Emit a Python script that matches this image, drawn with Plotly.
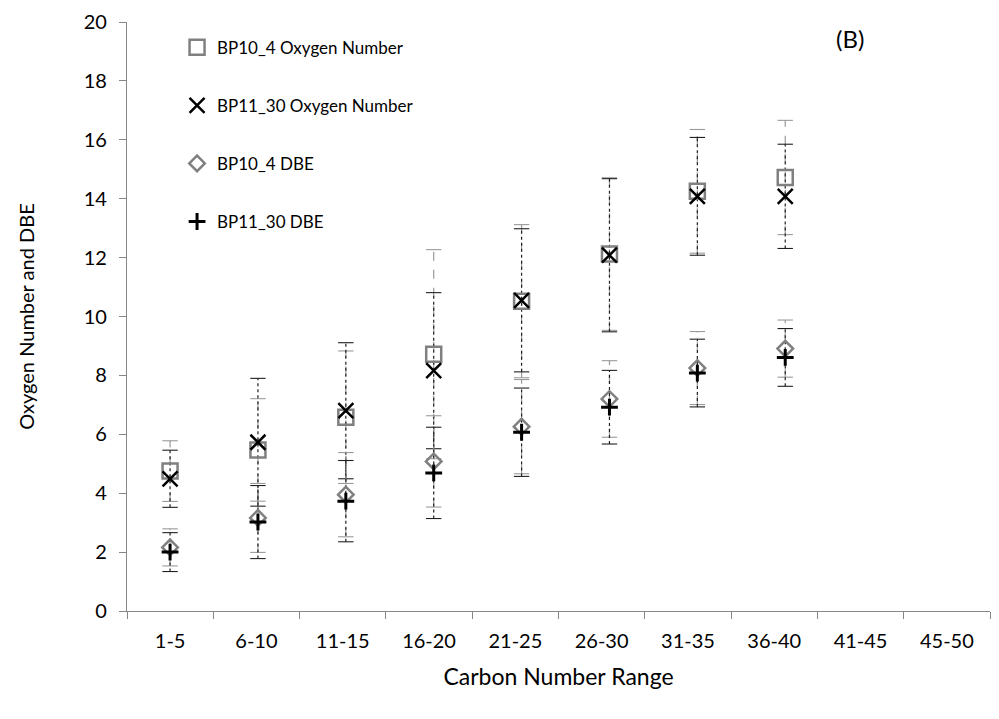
import plotly.graph_objects as go

categories = ["1-5", "6-10", "11-15", "16-20", "21-25", "26-30", "31-35", "36-40", "41-45", "45-50"]

bp10_oxygen = [4.75, 5.47, 6.58, 8.72, 10.52, 12.12, 14.25, 14.72]
bp10_oxygen_err = [1.03, 1.74, 2.25, 3.55, 2.60, 2.59, 2.10, 1.94]
bp11_oxygen = [4.49, 5.73, 6.80, 8.16, 10.55, 12.08, 14.08, 14.08]
bp11_oxygen_err = [0.97, 2.17, 2.31, 2.65, 2.43, 2.60, 2.00, 1.77]
bp10_dbe = [2.16, 3.16, 3.95, 5.08, 6.26, 7.20, 8.25, 8.91]
bp10_dbe_err = [0.63, 1.17, 1.43, 1.55, 1.60, 1.30, 1.24, 0.97]
bp11_dbe = [2.00, 3.02, 3.73, 4.69, 6.07, 6.92, 8.08, 8.61]
bp11_dbe_err = [0.66, 1.24, 1.38, 1.55, 1.50, 1.25, 1.15, 0.98]

series = [
    ("BP10_4 Oxygen Number", bp10_oxygen, bp10_oxygen_err,
     dict(symbol="square-open", size=15, color="#808080", line=dict(width=2.5, color="#808080")), "#9a9a9a", "dash"),
    ("BP11_30 Oxygen Number", bp11_oxygen, bp11_oxygen_err,
     dict(symbol="x-thin-open", size=15, color="#000000", line=dict(width=2.5, color="#000000")), "#202020", "dot"),
    ("BP10_4 DBE", bp10_dbe, bp10_dbe_err,
     dict(symbol="diamond-open", size=12, color="#808080", line=dict(width=2.5, color="#808080")), "#9a9a9a", "dash"),
    ("BP11_30 DBE", bp11_dbe, bp11_dbe_err,
     dict(symbol="cross-thin-open", size=12, color="#000000", line=dict(width=3, color="#000000")), "#202020", "dot"),
]

fig = go.Figure()

# invisible trace carrying the category axis
fig.add_trace(go.Scatter(x=list(range(len(categories))), y=[None] * len(categories),
                         mode="markers", showlegend=False, hoverinfo="skip"))

# error bars (dotted / dashed) on the overlay axis
for name, vals, errs, mk, ecol, edash in series:
    xs, ys, cx, cy = [], [], [], []
    for i, (v, e) in enumerate(zip(vals, errs)):
        xs += [i, i, None]
        ys += [v - e, v + e, None]
        cx += [i, i]
        cy += [v - e, v + e]
    fig.add_trace(go.Scatter(x=xs, y=ys, mode="lines", xaxis="x2",
                             line=dict(color=ecol, width=1.2, dash=edash),
                             showlegend=False, hoverinfo="skip"))
    fig.add_trace(go.Scatter(x=cx, y=cy, mode="markers", xaxis="x2",
                             marker=dict(symbol="line-ew-open", size=11, color=ecol,
                                         line=dict(color=ecol, width=1.1)),
                             showlegend=False, hoverinfo="skip"))

for k, (name, vals, errs, mk, ecol, edash) in enumerate(series):
    fig.add_trace(go.Scatter(x=list(range(len(vals))), y=vals, mode="markers", xaxis="x2",
                             name=name, marker=mk, legendgroup=f"g{k}"))

axis_col = "#878787"
font_main = "Lato"

fig.update_layout(
    width=999, height=719,
    margin=dict(l=127, r=9, t=20, b=108),
    paper_bgcolor="white", plot_bgcolor="white",
    font=dict(family=font_main, color="#000000"),
    xaxis=dict(
        range=[-0.5, 9.5], tickvals=list(range(len(categories))), ticktext=categories,
        ticks="", showgrid=False, zeroline=False,
        showline=True, linecolor=axis_col, linewidth=1.3,
        tickfont=dict(size=20), ticklabelstandoff=12,
        minor=dict(tickvals=[i - 0.5 for i in range(len(categories) + 1)],
                   ticks="outside", ticklen=7, tickcolor=axis_col, tickwidth=1.3, showgrid=False),
        title=dict(text="Carbon Number Range", font=dict(size=23), standoff=17),
    ),
    xaxis2=dict(overlaying="x", range=[-0.49, 9.33], visible=False),
    yaxis=dict(
        range=[0, 20], dtick=2, showgrid=False, zeroline=False,
        showline=True, linecolor=axis_col, linewidth=1.3,
        ticks="outside", ticklen=7, tickcolor=axis_col, tickwidth=1.3,
        tickfont=dict(size=20), ticklabelstandoff=8,
        title=dict(text="Oxygen Number and DBE", font=dict(size=20), standoff=43),
    ),
    legend=dict(x=0.058, y=0.987, xanchor="left", yanchor="top",
                bgcolor="rgba(0,0,0,0)", font=dict(size=17),
                tracegroupgap=33, itemwidth=30),
    annotations=[dict(text="(B)", xref="paper", yref="paper", x=0.838, y=0.972,
                      showarrow=False, font=dict(size=24),
                      xanchor="center", yanchor="middle")],
)

fig.write_html("out.html")
